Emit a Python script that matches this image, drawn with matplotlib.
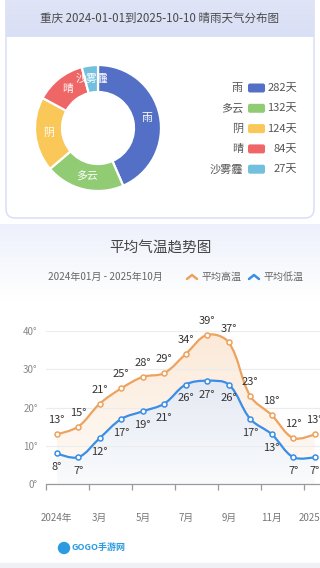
import numpy as np
import matplotlib
matplotlib.use("Agg")
import matplotlib.pyplot as plt
from matplotlib.patches import FancyBboxPatch, Rectangle, PathPatch
from matplotlib.path import Path
from matplotlib.colors import LinearSegmentedColormap

plt.rcParams['font.family'] = ['Noto Sans CJK SC', 'DejaVu Sans']

# ---------------- data ----------------
weather_types = ['雨', '多云', '阴', '晴', '沙雾霾']
weather_days = [282, 132, 124, 84, 27]
weather_colors = ['#5470c6', '#91cc75', '#fac858', '#ee6666', '#73c0de']

months = ['2024-01', '2024-02', '2024-03', '2024-04', '2024-05', '2024-06', '2024-07',
          '2024-08', '2024-09', '2024-10', '2024-11', '2024-12', '2025-01']
high_temp = [13, 15, 21, 25, 28, 29, 34, 39, 37, 23, 18, 12, 13]
low_temp = [8, 7, 12, 17, 19, 21, 26, 27, 26, 17, 13, 7, 7]
xtick_idx = [0, 2, 4, 6, 8, 10, 12]
xtick_labels = ['2024年', '3月', '5月', '7月', '9月', '11月', '2025年']
ytick_vals = [0, 10, 20, 30, 40]

W, H = 320, 568
fig = plt.figure(figsize=(W / 100, H / 100), dpi=100)
fig.patch.set_facecolor('white')

bg = fig.add_axes([0, 0, 1, 1])
bg.axis('off')

# section 2 background gradient
grad = np.linspace(0, 1, 100).reshape(-1, 1)
cm_bg = LinearSegmentedColormap.from_list('bgc', ['#edf1fb', '#ffffff'])
bg.imshow(grad, extent=(0, W, 300, 224), cmap=cm_bg, aspect='auto', zorder=0)
bg.add_patch(Rectangle((0, 563), W, 5, color='#eef0f6', zorder=1))

# card 1
card = FancyBboxPatch((6, -12), 308, 230, boxstyle='round,pad=0,rounding_size=9',
                      facecolor='white', edgecolor='#dde1f2', linewidth=1.2, zorder=1)
bg.add_patch(card)
cm_hd = LinearSegmentedColormap.from_list('hd', ['#e2e6f8', '#d9dff5'])
hdr = bg.imshow(grad, extent=(6, 314, 37, -12), cmap=cm_hd, aspect='auto', zorder=2)
hdr.set_clip_path(card)
bg.set_xlim(0, W)
bg.set_ylim(H, 0)
bg.text(160, 18, '重庆 2024-01-01到2025-10-10 晴雨天气分布图', ha='center', va='center',
        fontsize=8.3, color='#4a4a4a', fontweight='medium', zorder=3)

# donut
cx, cy, R = 98, 128, 64
dax = fig.add_axes([(cx - R) / W, 1 - (cy + R) / H, 2 * R / W, 2 * R / H])
dax.axis('off')
r_out = 63 / R
r_in = 36 / R
wedges, _ = dax.pie(weather_days, colors=weather_colors, radius=r_out, startangle=90,
                    counterclock=False,
                    wedgeprops=dict(width=r_out - r_in, edgecolor='white', linewidth=1.6))
dax.set_xlim(-1, 1)
dax.set_ylim(-1, 1)
rm = (r_out + r_in) / 2
for w, name in zip(wedges, weather_types):
    a = np.deg2rad((w.theta1 + w.theta2) / 2)
    dax.text(rm * np.cos(a), rm * np.sin(a), name, ha='center', va='center',
             fontsize=7.8, color='white')

# legend for donut
for i, (name, d, c) in enumerate(zip(weather_types, weather_days, weather_colors)):
    y = 88 + i * 20.3
    bg.text(243, y, name, ha='right', va='center', fontsize=8, color='#555555', zorder=3)
    bg.add_patch(FancyBboxPatch((248, y - 4.5), 17, 9, boxstyle='round,pad=0,rounding_size=2',
                                facecolor=c, edgecolor='none', zorder=3))
    bg.text(297, y, f'{d}天', ha='right', va='center', fontsize=8, color='#555555', zorder=3)

# section 2 title & legend
bg.text(160, 248, '平均气温趋势图', ha='center', va='center', fontsize=10.5,
        color='#444444', fontweight='medium', zorder=3)
bg.text(105, 277, '2024年01月 - 2025年10月', ha='center', va='center', fontsize=7.2,
        color='#666666', zorder=3)
for x0, c, lab in [(187, '#eda35e', '平均高温'), (249, '#3a8ee6', '平均低温')]:
    bg.plot([x0, x0 + 5, x0 + 10], [279, 275, 279], color=c, lw=1.8,
            solid_capstyle='round', solid_joinstyle='round', zorder=3)
    bg.text(x0 + 14, 277, lab, ha='left', va='center', fontsize=7.2, color='#666666', zorder=3)

# logo
bg.add_patch(plt.Circle((64, 548), 5.5, color='#2a9be0', zorder=3))
bg.text(71, 547, 'GOGO手游网', ha='left', va='center', fontsize=6.5, color='#2a9be0',
        fontweight='bold', zorder=3)

# line chart axes
step = 21.5
x_left = 46
y0_px, y40_px = 484, 331
ax_bottom = 1 - y0_px / H
ax_h = (y0_px - y40_px) / H
ax = fig.add_axes([x_left / W, ax_bottom, (W - x_left) / W, ax_h])
ax.patch.set_alpha(0)
for s in ['top', 'right', 'left']:
    ax.spines[s].set_visible(False)
ax.spines['bottom'].set_color('#9a9a9a')
ax.spines['bottom'].set_linewidth(0.9)
ax.set_yticks(ytick_vals)
ax.set_yticklabels([f'{v}°' for v in ytick_vals], fontsize=7, color='#888888')
ax.tick_params(axis='y', length=0, pad=6)
ax.grid(axis='y', color='#ececec', linewidth=0.8)
ax.set_xticks(xtick_idx)
ax.set_xticklabels(xtick_labels, fontsize=7, color='#777777')
ax.tick_params(axis='x', which='major', length=0, pad=21)
ax.set_xticks(np.arange(-0.5, len(months) + 1, 2), minor=True)
ax.tick_params(axis='x', which='minor', length=4, color='#9a9a9a', width=0.9)

xs = np.arange(len(months))
py = (y0_px - y40_px) / 40.0


def smooth_path(x, y, s=0.35):
    px = np.array(x, float) * step
    pyy = np.array(y, float) * py
    n = len(px)
    verts = [(x[0], y[0])]
    codes = [Path.MOVETO]
    cps = []
    for i in range(n):
        if i == 0 or i == n - 1:
            cps.append(((px[i], pyy[i]), (px[i], pyy[i])))
            continue
        vx, vy = px[i + 1] - px[i - 1], pyy[i + 1] - pyy[i - 1]
        d0 = np.hypot(px[i] - px[i - 1], pyy[i] - pyy[i - 1])
        d1 = np.hypot(px[i + 1] - px[i], pyy[i + 1] - pyy[i])
        f0 = s * d0 / (d0 + d1)
        f1 = s * d1 / (d0 + d1)
        cps.append(((px[i] - vx * f0, pyy[i] - vy * f0), (px[i] + vx * f1, pyy[i] + vy * f1)))
    for i in range(n - 1):
        c1 = cps[i][1]
        c2 = cps[i + 1][0]
        verts += [(c1[0] / step, c1[1] / py), (c2[0] / step, c2[1] / py), (x[i + 1], y[i + 1])]
        codes += [Path.CURVE4] * 3
    return verts, codes


series = [(high_temp, '#eda35e', ['#fbe6d2', '#fffbf7'], 1),
          (low_temp, '#3a8ee6', ['#e0e9f7', '#f9fbfe'], -1)]
for vals, col, fillc, side in series:
    verts, codes = smooth_path(xs, vals)
    fverts = [(xs[0], 0)] + [verts[0]] + verts[1:] + [(xs[-1], 0), (xs[0], 0)]
    fcodes = [Path.MOVETO, Path.LINETO] + codes[1:] + [Path.LINETO, Path.CLOSEPOLY]
    fpatch = PathPatch(Path(fverts, fcodes), facecolor='none', edgecolor='none')
    ax.add_patch(fpatch)
    cmf = LinearSegmentedColormap.from_list('f', fillc[::-1])
    im = ax.imshow(np.linspace(0, 1, 100).reshape(-1, 1), extent=(xs[0], xs[-1], 0, max(vals)),
                   origin='lower', cmap=cmf, aspect='auto', zorder=1, alpha=0.85)
    im.set_clip_path(fpatch)
    ax.add_patch(PathPatch(Path(verts, codes), facecolor='none', edgecolor=col, lw=1.6, zorder=3))
    ax.plot(xs, vals, 'o', ms=3.6, mfc='white', mec=col, mew=1.1, zorder=4, clip_on=False)
    for xi, v in zip(xs, vals):
        ax.annotate(f'{v}°', (xi, v), xytext=(0, 10 * side), textcoords='offset points',
                    ha='center', va='center', fontsize=8, color='#333333', zorder=5,
                    annotation_clip=False)
ax.set_xlim(-0.5, -0.5 + (W - x_left) / step)
ax.set_ylim(0, 40)

fig.savefig('out.png', dpi=100, facecolor='white')
